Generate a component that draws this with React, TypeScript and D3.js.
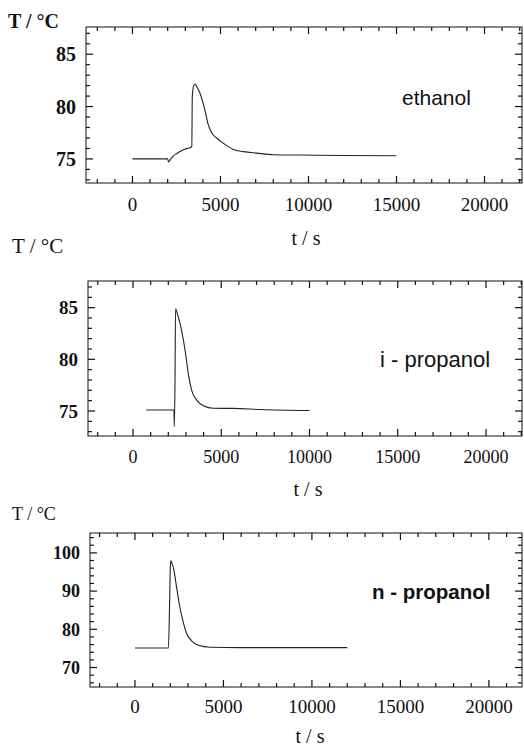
import React from 'react';
import * as d3 from 'd3';

// ethanol run
const ethanolTime = [0, 2000, 2050, 2150, 2300, 2500, 2700, 3000, 3300, 3370, 3400, 3480, 3560, 3650, 3830, 4110, 4300, 4500, 4780, 5160, 5730, 6300, 7070, 8020, 9540, 12000, 15000];
const ethanolTemp = [75.0, 75.0, 74.7, 74.95, 75.25, 75.5, 75.7, 75.95, 76.1, 76.2, 81.0, 82.0, 82.15, 81.9, 81.3, 79.7, 78.3, 77.5, 77.0, 76.5, 75.9, 75.7, 75.55, 75.4, 75.37, 75.33, 75.3];

// i-propanol run
const iPropTime = [750, 2320, 2340, 2380, 2410, 2530, 2660, 2850, 3000, 3135, 3325, 3610, 3990, 4550, 5680, 7200, 10000];
const iPropTemp = [75.1, 75.1, 73.5, 77.9, 84.9, 84.3, 83.5, 81.9, 80.3, 78.6, 77.0, 76.05, 75.5, 75.26, 75.25, 75.15, 75.05];

// n-propanol run
const nPropTime = [0, 1890, 1950, 2000, 2030, 2100, 2200, 2350, 2500, 2700, 2920, 3200, 3580, 4240, 6000, 9000, 12000];
const nPropTemp = [75.1, 75.1, 85.0, 96.5, 97.9, 97.2, 95.5, 91.1, 86.75, 82.4, 78.9, 77.0, 75.8, 75.3, 75.2, 75.2, 75.2];

const xMajorTicks = [0, 5000, 10000, 15000, 20000];
const yMajorTicksA = [75, 80, 85];
const yMajorTicksC = [70, 80, 90, 100];
const panelNames = ['ethanol', 'i - propanol', 'n - propanol'];

const serif = '"Liberation Serif", "Times New Roman", serif';
const sans = '"Liberation Sans", Arial, sans-serif';

type Panel = {
  time: number[];
  temp: number[];
  name: string;
  box: { l: number; t: number; r: number; b: number };
  xDomain: [number, number];
  yDomain: [number, number];
  yMajor: number[];
  yMinorStep: number;
  yLabelSize: number;
  xLabelSize: number;
  yTitle: { x: number; y: number; size: number; bold: boolean };
  xTitle: { x: number; y: number };
  xLabelDy: number;
  note: { x: number; y: number; size: number; bold: boolean };
};

const panels: Panel[] = [
  {
    time: ethanolTime, temp: ethanolTemp, name: panelNames[0],
    box: { l: 86, t: 27, r: 522, b: 183 },
    xDomain: [-2640, 22130], yDomain: [72.7, 87.6],
    yMajor: yMajorTicksA, yMinorStep: 1, yLabelSize: 20, xLabelSize: 19,
    yTitle: { x: 8, y: 28, size: 20, bold: true },
    xTitle: { x: 306, y: 245 }, xLabelDy: 28,
    note: { x: 402, y: 105, size: 21, bold: false },
  },
  {
    time: iPropTime, temp: iPropTemp, name: panelNames[1],
    box: { l: 88, t: 281, r: 522, b: 436 },
    xDomain: [-2550, 22040], yDomain: [72.58, 87.58],
    yMajor: yMajorTicksA, yMinorStep: 1, yLabelSize: 19, xLabelSize: 18,
    yTitle: { x: 12, y: 253, size: 21, bold: false },
    xTitle: { x: 308, y: 496 }, xLabelDy: 27,
    note: { x: 380, y: 367, size: 22, bold: false },
  },
  {
    time: nPropTime, temp: nPropTemp, name: panelNames[2],
    box: { l: 90, t: 533, r: 522, b: 687 },
    xDomain: [-2540, 21870], yDomain: [64.9, 105.2],
    yMajor: yMajorTicksC, yMinorStep: 2, yLabelSize: 18, xLabelSize: 19,
    yTitle: { x: 12, y: 520, size: 18, bold: false },
    xTitle: { x: 310, y: 743 }, xLabelDy: 26,
    note: { x: 372, y: 599, size: 20.5, bold: true },
  },
];

function PanelChart({ p }: { p: Panel }) {
  const { l, t, r, b } = p.box;
  const x = d3.scaleLinear().domain(p.xDomain).range([l, r]);
  const y = d3.scaleLinear().domain(p.yDomain).range([b, t]);

  const pts = p.time.map((tt, i) => [tt, p.temp[i]] as [number, number]);
  const line = d3.line<[number, number]>()
    .x(d => x(d[0]))
    .y(d => y(d[1]))
    .curve(d3.curveMonotoneX);

  const xMinor = d3.range(Math.ceil(p.xDomain[0] / 1000) * 1000, p.xDomain[1], 1000)
    .filter(v => v % 5000 !== 0);
  const yMinor = d3.range(Math.ceil(p.yDomain[0] / p.yMinorStep) * p.yMinorStep, p.yDomain[1], p.yMinorStep)
    .filter(v => !p.yMajor.includes(v));

  const major = 7;
  const minor = 4;
  const tickStroke = '#111';
  const tw = 1.2;

  return (
    <g>
      <rect x={l} y={t} width={r - l} height={b - t} fill="none" stroke="#111" strokeWidth={1} />
      {/* x ticks, bottom and top, pointing inward */}
      {xMajorTicks.map(v => (
        <g key={'xM' + v}>
          <line x1={x(v)} x2={x(v)} y1={b} y2={b - major} stroke={tickStroke} strokeWidth={tw} />
          <line x1={x(v)} x2={x(v)} y1={t} y2={t + major} stroke={tickStroke} strokeWidth={tw} />
        </g>
      ))}
      {xMinor.map(v => (
        <g key={'xm' + v}>
          <line x1={x(v)} x2={x(v)} y1={b} y2={b - minor} stroke={tickStroke} strokeWidth={tw} />
          <line x1={x(v)} x2={x(v)} y1={t} y2={t + minor} stroke={tickStroke} strokeWidth={tw} />
        </g>
      ))}
      {p.yMajor.map(v => (
        <g key={'yM' + v}>
          <line x1={l} x2={l + major} y1={y(v)} y2={y(v)} stroke={tickStroke} strokeWidth={tw} />
          <line x1={r} x2={r - major} y1={y(v)} y2={y(v)} stroke={tickStroke} strokeWidth={tw} />
          <text x={l - 10} y={y(v)} dy="0.35em" textAnchor="end" fontFamily={serif}
            fontWeight="bold" fontSize={p.yLabelSize} fill="#111">{v}</text>
        </g>
      ))}
      {yMinor.map(v => (
        <g key={'ym' + v}>
          <line x1={l} x2={l + minor} y1={y(v)} y2={y(v)} stroke={tickStroke} strokeWidth={tw} />
          <line x1={r} x2={r - minor} y1={y(v)} y2={y(v)} stroke={tickStroke} strokeWidth={tw} />
        </g>
      ))}
      {xMajorTicks.map(v => (
        <text key={'xl' + v} x={x(v)} y={b + p.xLabelDy} textAnchor="middle"
          fontFamily={serif} fontSize={p.xLabelSize} fill="#111">{v}</text>
      ))}
      <path d={line(pts) ?? ''} fill="none" stroke="#222" strokeWidth={1.1} />
      <text x={p.yTitle.x} y={p.yTitle.y} fontFamily={serif} fontSize={p.yTitle.size}
        fontWeight={p.yTitle.bold ? 'bold' : 'normal'} fill="#111">T / °C</text>
      <text x={p.xTitle.x} y={p.xTitle.y} textAnchor="middle" fontFamily={serif}
        fontSize={20} fill="#111">t / s</text>
      <text x={p.note.x} y={p.note.y} fontFamily={sans} fontSize={p.note.size}
        fontWeight={p.note.bold ? 'bold' : 'normal'} fill="#111">{p.name}</text>
    </g>
  );
}

export default function App() {
  return (
    <svg width={524} height={746} style={{ position: 'absolute', left: 0, top: 0, background: '#fff' }}>
      <rect x={0} y={0} width={524} height={746} fill="#fff" />
      {panels.map((p, i) => <PanelChart key={i} p={p} />)}
    </svg>
  );
}
